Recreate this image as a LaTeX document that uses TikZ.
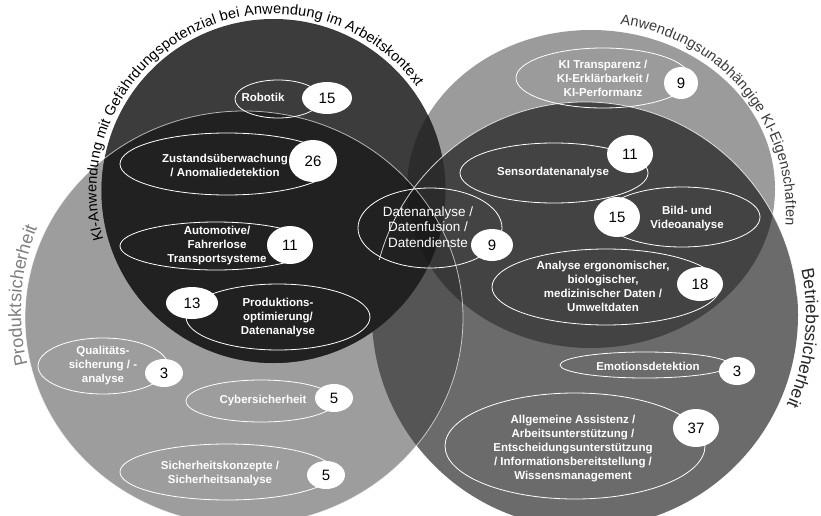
\documentclass[tikz,border=0pt]{standalone}
\usepackage{fontspec}
\setmainfont{Liberation Sans}
\usetikzlibrary{shapes.geometric,decorations.text}
\definecolor{cLight}{HTML}{9B9B9B}
\definecolor{cLightB}{HTML}{9D9D9D}
\definecolor{cMed}{HTML}{6B6B6B}
\definecolor{cPB}{HTML}{555555}
\definecolor{cAB}{HTML}{434343}
\definecolor{cPAB}{HTML}{393939}
\definecolor{cDark}{HTML}{3C3C3C}
\definecolor{cDP}{HTML}{212121}
\definecolor{cDA}{HTML}{2C2C2C}
\definecolor{cDPA}{HTML}{1B1B1B}
\definecolor{cArcA}{HTML}{3A3A3A}
\definecolor{cArcP}{HTML}{7E7E7E}
\begin{document}
\begin{tikzpicture}[x=1pt,y=1pt,
  lab/.style={draw=white, line width=0.8pt, ellipse, inner sep=0pt},
  bub/.style={fill=white, ellipse, inner sep=0pt, text=black, font=\fontsize{15}{15}\selectfont},
  lbl/.style={text=white, font=\bfseries\fontsize{11.5}{14}\selectfont, align=center, inner sep=0pt},
  arctext/.style={decorate, decoration={text along path, text align={fit to path}}}
]
\def\setP{(244,-318) ellipse[x radius=219, y radius=207]}
\def\setA{(591,-189) ellipse[x radius=184, y radius=159]}
\def\setB{(585,-315) circle[radius=213]}
\def\setD{(273.5,-191) circle[radius=172]}
\useasboundingbox (0,-516) rectangle (821,0);
\clip (0,-516) rectangle (821,0);
% big sets
\fill[cLightB] \setP;
\fill[cLight] \setA;
\fill[cMed] \setB;
\begin{scope}
  \clip \setB;
  \fill[cPB] \setP;
  \fill[cAB] \setA;
  \clip \setP;
  \fill[cPAB] \setA;
\end{scope}
\fill[cDark] \setD;
\begin{scope}
  \clip \setD;
  \fill[cDP] \setP;
  \fill[cDA] \setA;
  \clip \setP;
  \fill[cDPA] \setA;
\end{scope}
% white outlines
\draw[white, line width=0.8pt, opacity=0.65] \setP;
\draw[white, line width=0.8pt, opacity=0.8] (585,-315) ++(165:213) arc[start angle=165, end angle=5, radius=213];
% arc titles
\path[arctext, decoration={text color=black, text={|\fontsize{14.5}{14.5}\selectfont|KI-Anwendung mit Gefährdungspotenzial bei Anwendung im Arbeitskontext}}]
  (273.5,-191) ++(196:177) arc[start angle=196, end angle=36, radius=177];
\path[arctext, decoration={text color=cArcA, text={|\fontsize{14.5}{14.5}\selectfont|Anwendungsunabhängige KI-Eigenschaften}}]
  (597,-212) ++(83:189) arc[start angle=83, end angle=-4, radius=189];
\path[arctext, decoration={text color=cArcP, text={|\fontsize{18}{18}\selectfont|Produktsicherheit}}]
  (244,-311) ++(194:223) arc[start angle=194, end angle=158, radius=223];
\path[arctext, decoration={text color=black!85, text={|\fontsize{17.5}{17.5}\selectfont|Betriebssicherheit}}]
  (585,-315) ++(12:221) arc[start angle=12, end angle=-24, radius=221];
% label ellipses
\node[lab, minimum width=86pt, minimum height=38pt] (e1) at (278,-99) {};
\node[lab, minimum width=214pt, minimum height=62pt] (e2) at (227,-164) {};
\node[lab, minimum width=192pt, minimum height=48pt] (e3) at (216,-246) {};
\node[lab, minimum width=184pt, minimum height=66pt] (e4) at (278,-317) {};
\node[lab, minimum width=130pt, minimum height=56pt] (e5) at (103,-366) {};
\node[lab, minimum width=150pt, minimum height=42pt] (e6) at (261,-401) {};
\node[lab, minimum width=214pt, minimum height=56pt] (e7) at (227,-472) {};
\node[lab, minimum width=144pt, minimum height=80pt] (e8) at (430,-228) {};
\node[lab, minimum width=174pt, minimum height=60pt] (e9) at (603,-78) {};
\node[lab, minimum width=188pt, minimum height=60pt] (e10) at (554,-173) {};
\node[lab, minimum width=156pt, minimum height=60pt] (e11) at (682,-217) {};
\node[lab, minimum width=228pt, minimum height=76pt] (e12) at (606,-287) {};
\node[lab, minimum width=170pt, minimum height=26pt] (e13) at (645,-365) {};
\node[lab, minimum width=260pt, minimum height=106pt] (e14) at (575,-446) {};
% bubbles
\node[bub, minimum width=50pt, minimum height=32pt] (b1) at (327,-98) {15};
\node[bub, minimum width=48pt, minimum height=42pt] (b2) at (313,-161) {26};
\node[bub, minimum width=46pt, minimum height=38pt] (b3) at (290,-245) {11};
\node[bub, minimum width=52pt, minimum height=32pt] (b4) at (192,-303) {13};
\node[bub, minimum width=38pt, minimum height=28pt] (b5) at (164,-373) {3};
\node[bub, minimum width=38pt, minimum height=28pt] (b6) at (334,-398) {5};
\node[bub, minimum width=38pt, minimum height=28pt] (b7) at (326,-475) {5};
\node[bub, minimum width=42pt, minimum height=32pt] (b8) at (492,-245) {9};
\node[bub, minimum width=34pt, minimum height=32pt] (b9) at (681,-83) {9};
\node[bub, minimum width=46pt, minimum height=38pt] (b10) at (630,-154) {11};
\node[bub, minimum width=46pt, minimum height=40pt] (b11) at (617,-217) {15};
\node[bub, minimum width=46pt, minimum height=34pt] (b12) at (700,-284) {18};
\node[bub, minimum width=36pt, minimum height=28pt] (b13) at (737,-371) {3};
\node[bub, minimum width=46pt, minimum height=38pt] (b14) at (696,-428) {37};
% labels
\node[lbl] (t1) at (263,-97) {Robotik};
\node[lbl] (t2) at (225,-165) {Zustandsüberwachung\\/ Anomaliedetektion};
\node[lbl] (t3) at (217,-246) {Automotive/\\Fahrerlose\\Transportsysteme};
\node[lbl] (t4) at (278,-318) {Produktions-\\optimierung/\\Datenanalyse};
\node[lbl] (t5) at (103,-366) {Qualitäts-\\sicherung / -\\analyse};
\node[lbl] (t6) at (263,-401) {Cybersicherheit};
\node[lbl] (t7) at (220,-474) {Sicherheitskonzepte /\\Sicherheitsanalyse};
\node[lbl, font=\fontsize{13.5}{15.5}\selectfont] (t8) at (428,-227) {Datenanalyse /\\Datenfusion /\\Datendienste};
\node[lbl] (t9) at (603,-78) {KI Transparenz /\\KI-Erklärbarkeit /\\KI-Performanz};
\node[lbl] (t10) at (553,-173) {Sensordatenanalyse};
\node[lbl] (t11) at (687,-219) {Bild- und\\Videoanalyse};
\node[lbl] (t12) at (603,-286) {Analyse ergonomischer,\\biologischer,\\medizinischer Daten /\\Umweltdaten};
\node[lbl] (t13) at (648,-366) {Emotionsdetektion};
\node[lbl] (t14) at (573,-449) {Allgemeine Assistenz /\\Arbeitsunterstützung /\\Entscheidungsunterstützung\\/ Informationsbereitstellung /\\Wissensmanagement};
\end{tikzpicture}
\end{document}
